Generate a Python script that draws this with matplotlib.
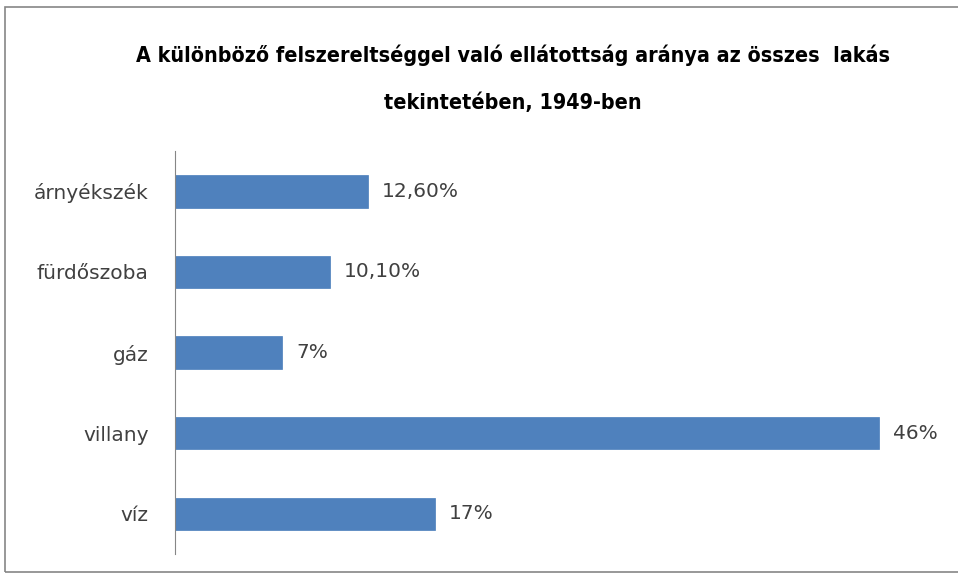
import matplotlib
matplotlib.use('Agg')
from matplotlib import pyplot as plt
from matplotlib.patches import Rectangle

categories = ['árnyékszék', 'fürdőszoba', 'gáz', 'villany', 'víz']
values = [0.126, 0.101, 0.07, 0.46, 0.17]
value_labels = ['12,60%', '10,10%', '7%', '46%', '17%']
title = 'A különböző felszereltséggel való ellátottság aránya az összes  lakás\ntekintetében, 1949-ben'

fig = plt.figure(figsize=(9.58, 5.79), dpi=100)
ax = fig.add_axes([0.1827, 0.0432, 0.7993, 0.6958])

ypos = list(range(len(categories)))
ax.barh(ypos, values, height=0.4, color='#4F81BD', edgecolor='#4A7EBB', linewidth=0.5)
ax.set_ylim(len(categories) - 0.5, -0.5)
ax.set_xlim(0, 0.5)

for y, v, lab in zip(ypos, values, value_labels):
    ax.text(v + 0.009, y, lab, va='center', ha='left', fontsize=14.5, color='#404040')

ax.set_yticks(ypos)
ax.set_yticklabels(categories, fontsize=14.5, color='#404040')
ax.tick_params(axis='y', length=0, pad=19)
ax.set_xticks([])
for s in ['top', 'right', 'bottom']:
    ax.spines[s].set_visible(False)
ax.spines['left'].set_color('#868686')
ax.spines['left'].set_linewidth(0.8)

fig.text(0.535, 0.864, title, ha='center', va='center', fontsize=15.4, fontweight='bold',
         family=['DejaVu Sans Condensed', 'Liberation Sans Narrow', 'DejaVu Sans'],
         fontstretch='condensed', linespacing=2.6)

fig.patches.append(Rectangle((5 / 958, 7 / 579), 1.0, 1 - 14 / 579, transform=fig.transFigure,
                             fill=False, edgecolor='#868686', linewidth=1.2))

fig.savefig('out.png', dpi=100)
